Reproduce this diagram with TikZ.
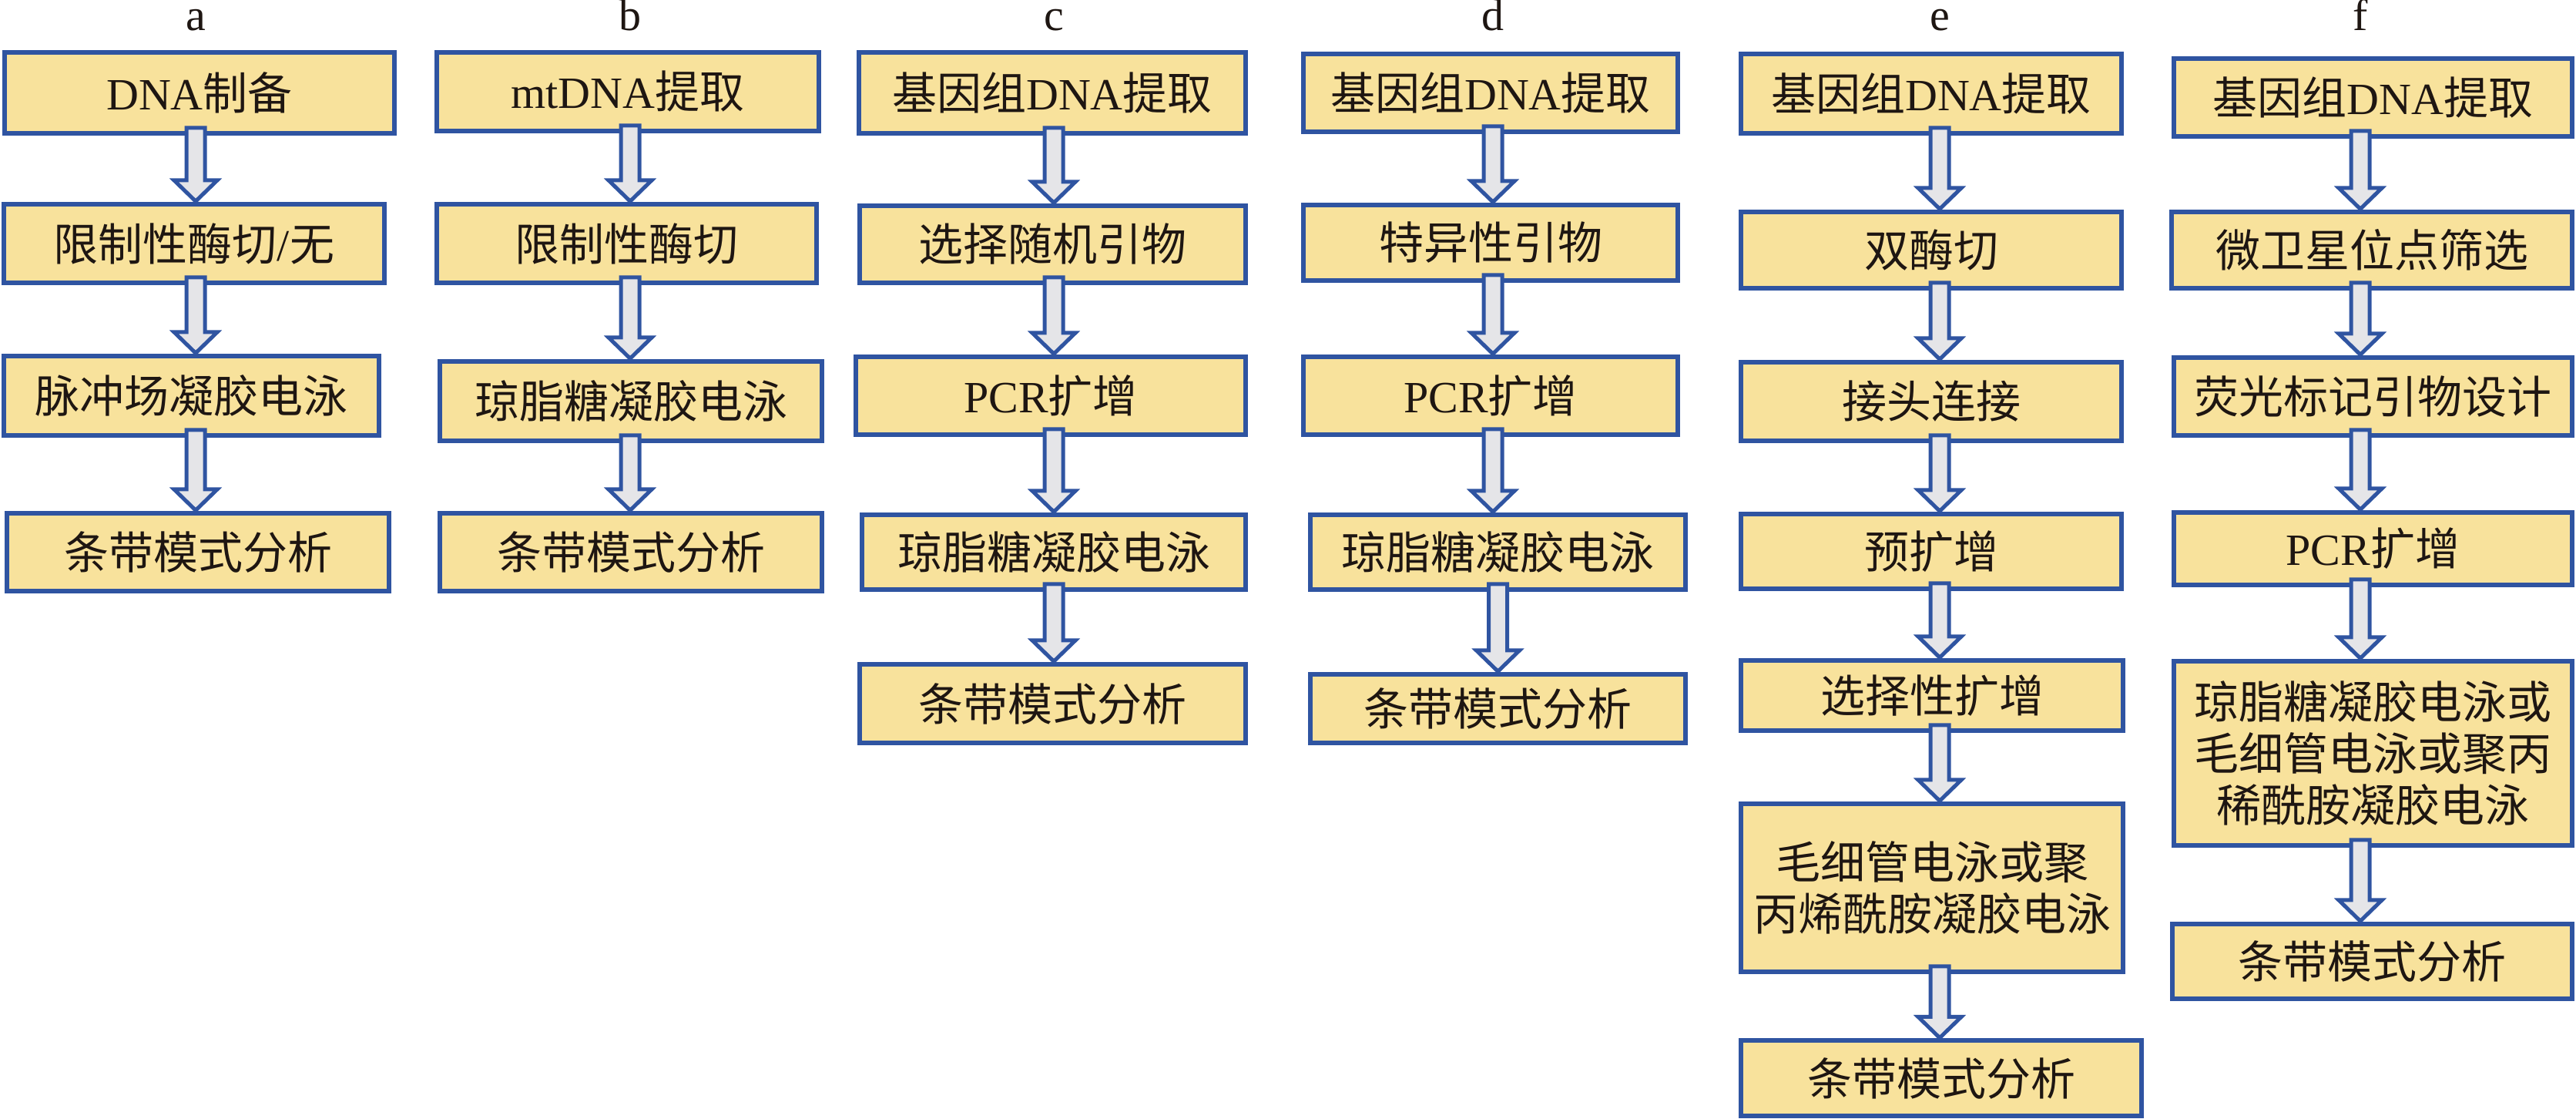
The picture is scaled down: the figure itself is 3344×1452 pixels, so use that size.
\documentclass[tikz,border=0pt]{standalone}
\usepackage{fontspec}
\setmainfont{Liberation Serif}
\newfontfamily\cjk{Noto Sans CJK SC}
\usetikzlibrary{calc}

\definecolor{boxfill}{RGB}{248,226,156}
\definecolor{boxline}{RGB}{47,84,161}
\definecolor{arrowfill}{RGB}{229,229,232}
\definecolor{txtcol}{RGB}{30,22,18}

\newcommand\lat[1]{{\rmfamily #1}}
% block arrow from the bottom of #1 to the top of #2, on the axis of #3
\newcommand\flowarrow[3]{%
\draw [arrowbody] let \p1=(#1.south -| #3), \p2=(#2.north -| #3) in
 (\x1-3pt,\y1-2.5pt) -- (\x1+3pt,\y1-2.5pt) -- (\x1+3pt,\y2-7pt) -- (\x1+7pt,\y2-7pt) -- (\x1,\y2-0.2pt) -- (\x1-7pt,\y2-7pt) -- (\x1-3pt,\y2-7pt) -- cycle ;}

\tikzset{
  procbox/.style={draw=boxline, fill=boxfill, line width=1.5pt, inner sep=0pt, align=center, text=txtcol,
    font=\cjk\fontsize{14.5}{16.75}\selectfont, minimum height=101*0.25pt},
  bw/.style={minimum width=#1*0.25pt},
  bh/.style={minimum height=#1*0.25pt},
  collabel/.style={anchor=base, inner sep=0pt, text=txtcol, font=\fontsize{14.5}{17}\selectfont},
  arrowbody/.style={draw=boxline, fill=arrowfill, line width=1.25pt, line join=miter},
}

\begin{document}
\begin{tikzpicture}[x=0.25pt,y=0.25pt,yscale=-1,xscale=1]
\useasboundingbox (0,0) rectangle (3344,1452);

% Labels
\node (la) [collabel] at (254,40) {a};
\node (lb) [collabel] at (818,40) {b};
\node (lc) [collabel] at (1368,40) {c};
\node (ld) [collabel] at (1938,40) {d};
\node (le) [collabel] at (2518,40) {e};
\node (lf) [collabel] at (3064,40) {f};

% Text Node
\node (a1) [procbox, bw=506, bh=105] at (259,120.5) {\lat{DNA}制备};
\node (a2) [procbox, bw=494, bh=102] at (252,316) {限制性酶切\lat{/}无};
\node (a3) [procbox, bw=487, bh=103] at (248.5,513.5) {脉冲场凝胶电泳};
\node (a4) [procbox, bw=496] at (257,716.5) {条带模式分析};
% Text Node
\node (b1) [procbox, bw=496, bh=102] at (815,119) {\lat{mtDNA}提取};
\node (b2) [procbox, bw=493, bh=102] at (813.5,316) {限制性酶切};
\node (b3) [procbox, bw=496, bh=103] at (819,520.5) {琼脂糖凝胶电泳};
\node (b4) [procbox, bw=496] at (819,716.5) {条带模式分析};
% Text Node
\node (c1) [procbox, bw=502, bh=105] at (1366,120.5) {基因组\lat{DNA}提取};
\node (c2) [procbox, bw=501, bh=100] at (1366.5,317) {选择随机引物};
\node (c3) [procbox, bw=506] at (1364,513.5) {\lat{PCR}扩增};
\node (c4) [procbox, bw=498, bh=97] at (1368,716.5) {琼脂糖凝胶电泳};
\node (c5) [procbox, bw=501, bh=102] at (1366.5,913) {条带模式分析};
% Text Node
\node (d1) [procbox, bw=486] at (1935,120.5) {基因组\lat{DNA}提取};
\node (d2) [procbox, bw=486, bh=98] at (1935,315) {特异性引物};
\node (d3) [procbox, bw=486] at (1935,513.5) {\lat{PCR}扩增};
\node (d4) [procbox, bw=487, bh=97] at (1944.5,716.5) {琼脂糖凝胶电泳};
\node (d5) [procbox, bw=487, bh=89] at (1944.5,919.5) {条带模式分析};
% Text Node
\node (e1) [procbox, bw=494, bh=103] at (2507,121.5) {基因组\lat{DNA}提取};
\node (e2) [procbox, bw=494, bh=99] at (2507,324.5) {双酶切};
\node (e3) [procbox, bw=494, bh=102] at (2507,521) {接头连接};
\node (e4) [procbox, bw=494, bh=97] at (2507,715.5) {预扩增};
\node (e5) [procbox, bw=496, bh=91] at (2508,902.5) {选择性扩增};
\node (e6) [procbox, bw=496, bh=218] at (2508,1152) {毛细管电泳或聚\\丙烯酰胺凝胶电泳};
\node (e7) [procbox, bw=520, bh=98] at (2520,1399.5) {条带模式分析};
% Text Node
\node (f1) [procbox, bw=517] at (3080.5,126.5) {基因组\lat{DNA}提取};
\node (f2) [procbox, bw=520, bh=99] at (3079,324.5) {微卫星位点筛选};
\node (f3) [procbox, bw=517] at (3080.5,514.5) {荧光标记引物设计};
\node (f4) [procbox, bw=517, bh=94] at (3080.5,712) {\lat{PCR}扩增};
\node (f5) [procbox, bw=517, bh=239] at (3080.5,977.5) {琼脂糖凝胶电泳或\\毛细管电泳或聚丙\\稀酰胺凝胶电泳};
\node (f6) [procbox, bw=519, bh=97] at (3079.5,1247.5) {条带模式分析};

% Connection
\flowarrow{a1}{a2}{la}
\flowarrow{a2}{a3}{la}
\flowarrow{a3}{a4}{la}
% Connection
\flowarrow{b1}{b2}{lb}
\flowarrow{b2}{b3}{lb}
\flowarrow{b3}{b4}{lb}
% Connection
\flowarrow{c1}{c2}{lc}
\flowarrow{c2}{c3}{lc}
\flowarrow{c3}{c4}{lc}
\flowarrow{c4}{c5}{lc}
% Connection
\flowarrow{d1}{d2}{ld}
\flowarrow{d2}{d3}{ld}
\flowarrow{d3}{d4}{ld}
\flowarrow{d4}{d5}{d4}
% Connection
\flowarrow{e1}{e2}{le}
\flowarrow{e2}{e3}{le}
\flowarrow{e3}{e4}{le}
\flowarrow{e4}{e5}{le}
\flowarrow{e5}{e6}{le}
\flowarrow{e6}{e7}{le}
% Connection
\flowarrow{f1}{f2}{lf}
\flowarrow{f2}{f3}{lf}
\flowarrow{f3}{f4}{lf}
\flowarrow{f4}{f5}{lf}
\flowarrow{f5}{f6}{lf}

\end{tikzpicture}
\end{document}
